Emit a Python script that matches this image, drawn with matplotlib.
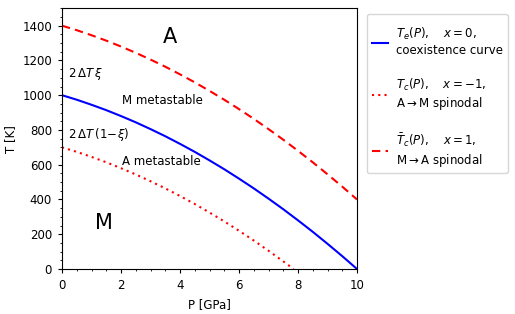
import matplotlib
matplotlib.use("Agg")
import matplotlib.pyplot as plt
from matplotlib.ticker import AutoMinorLocator

P = [0, 0.5, 1, 1.5, 2, 2.5, 3, 3.5, 4, 4.5, 5, 5.5, 6, 6.5, 7, 7.5, 8, 8.5, 9, 9.5, 10]
T_e = [1000, 974, 945, 914, 880, 844, 805, 764, 720, 674, 625, 574, 520, 464, 405, 344, 280, 214, 145, 74, 0]
T_c_upper = [1400, 1374, 1345, 1314, 1280, 1244, 1205, 1164, 1120, 1074, 1025, 974, 920, 864, 805, 744, 680, 614, 545, 474, 400]
P_low = [0, 0.5, 1, 1.5, 2, 2.5, 3, 3.5, 4, 4.5, 5, 5.5, 6, 6.5, 7, 7.5, 7.85]
T_c_lower = [700, 674, 645, 614, 580, 544, 505, 464, 420, 374, 325, 274, 220, 164, 105, 44, 0]

labels = [r"$T_e(P)$,    $x=0$," + "\ncoexistence curve",
          r"$T_c(P)$,    $x=-1$," + "\nA$\\rightarrow$M spinodal",
          r"$\bar{T}_c(P)$,    $x=1$," + "\nM$\\rightarrow$A spinodal"]

plt.rcParams['font.size'] = 8.5
plt.rcParams['xtick.major.size'] = 3
plt.rcParams['ytick.major.size'] = 3
plt.rcParams['xtick.minor.size'] = 1.7
plt.rcParams['ytick.minor.size'] = 1.7
fig = plt.figure(figsize=(5.15, 3.14), dpi=100)
ax = fig.add_axes([62/515, 1-269/314, (357-62)/515, (269-8.3)/314])

ax.plot(P, T_e, color='blue', lw=1.5, label=labels[0])
ax.plot(P_low, T_c_lower, color='red', lw=1.5, ls=(0, (1, 2)), label=labels[1])
ax.plot(P, T_c_upper, color='red', lw=1.5, ls=(0, (4, 2.5)), label=labels[2])

ax.set_xlim(0, 10)
ax.set_ylim(0, 1500)
ax.xaxis.set_minor_locator(AutoMinorLocator())
ax.yaxis.set_minor_locator(AutoMinorLocator())
ax.tick_params(which='major', pad=4.2)
ax.set_xlabel("P [GPa]")
ax.set_ylabel("T [K]")

ax.text(3.65, 1337, "A", fontsize=15, ha='center', va='center')
ax.text(1.42, 264, "M", fontsize=15, ha='center', va='center')
ax.text(0.2, 1124, r"$2\,\Delta T\,\xi$", ha='left', va='center')
ax.text(2.03, 970, "M metastable", ha='left', va='center')
ax.text(0.2, 775, r"$2\,\Delta T\,(1\!-\!\xi)$", ha='left', va='center')
ax.text(2.03, 620, "A metastable", ha='left', va='center')

leg = fig.legend(loc='upper left', bbox_to_anchor=(367/515, 1-14/314), borderaxespad=0,
                 handlelength=1.36, labelspacing=1.65, borderpad=0.4, handletextpad=0.68,
                 title=" ", title_fontsize=5)
leg._legend_box.sep = 1

fig.savefig("out.png", dpi=100)
